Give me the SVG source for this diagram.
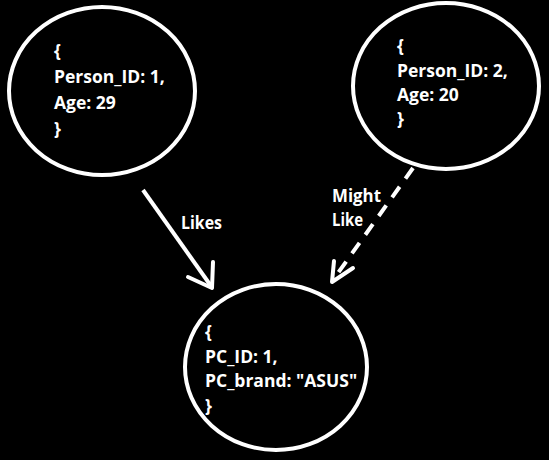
<svg xmlns="http://www.w3.org/2000/svg" width="549" height="460" viewBox="0 0 549 460">
<defs>
<style>
.node{fill:none;stroke:#fff;stroke-width:4}
.t{font-family:"Open Sans","Liberation Sans",sans-serif;font-weight:700;font-size:17.5px;fill:#fff}
.edge{fill:none;stroke:#fff;stroke-width:4;stroke-linecap:butt}
.head{fill:none;stroke:#fff;stroke-width:4;stroke-linecap:round;stroke-linejoin:round}
</style>
</defs>
<rect width="549" height="460" fill="#000"/>
<g id="person1">
<ellipse class="node" cx="102" cy="91" rx="93" ry="84"/>
<text class="t" x="54" y="57">{</text>
<text class="t" x="54" y="83">Person_ID: 1,</text>
<text class="t" x="54" y="109">Age: 29</text>
<text class="t" x="54" y="135">}</text>
</g>
<g id="person2">
<ellipse class="node" cx="446" cy="86" rx="93" ry="83"/>
<text class="t" x="397" y="52">{</text>
<text class="t" x="397" y="77">Person_ID: 2,</text>
<text class="t" x="397" y="101">Age: 20</text>
<text class="t" x="397" y="125">}</text>
</g>
<g id="pc">
<ellipse class="node" cx="276" cy="367" rx="91" ry="83"/>
<text class="t" x="205" y="338">{</text>
<text class="t" x="205" y="363">PC_ID: 1,</text>
<text class="t" x="205" y="387">PC_brand: "ASUS"</text>
<text class="t" x="205" y="412">}</text>
</g>
<g id="connectors">
<line class="edge" x1="143" y1="190" x2="211" y2="286"/>
<polyline class="head" points="188,277 212,288 213,262"/>
<text class="t" x="181" y="229" textLength="41" lengthAdjust="spacingAndGlyphs">Likes</text>
<line class="edge" x1="413" y1="168" x2="333" y2="280" stroke-dasharray="13,10"/>
<polyline class="head" points="334,261 332,282 353,268"/>
<text class="t" x="332" y="202" textLength="49" lengthAdjust="spacingAndGlyphs">Might</text>
<text class="t" x="332" y="226" textLength="31" lengthAdjust="spacingAndGlyphs">Like</text>
</g>
</svg>
